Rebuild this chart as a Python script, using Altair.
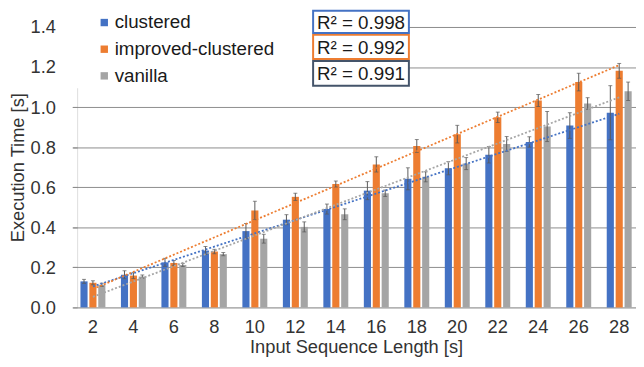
import altair as alt
import pandas as pd

lengths = [2, 4, 6, 8, 10, 12, 14, 16, 18, 20, 22, 24, 26, 28]
series_names = ["clustered", "improved-clustered", "vanilla"]
clustered = [0.130, 0.163, 0.225, 0.284, 0.381, 0.438, 0.491, 0.583, 0.642, 0.695, 0.762, 0.826, 0.908, 0.972]
improved = [0.123, 0.159, 0.222, 0.279, 0.484, 0.552, 0.616, 0.714, 0.806, 0.865, 0.949, 1.033, 1.125, 1.181]
vanilla = [0.113, 0.154, 0.212, 0.266, 0.343, 0.402, 0.465, 0.570, 0.652, 0.718, 0.816, 0.903, 1.018, 1.079]
clustered_err = [0.010, 0.020, 0.020, 0.020, 0.038, 0.025, 0.025, 0.045, 0.055, 0.033, 0.041, 0.026, 0.064, 0.135]
improved_err = [0.010, 0.015, 0.012, 0.011, 0.046, 0.018, 0.015, 0.038, 0.032, 0.044, 0.026, 0.030, 0.044, 0.037]
vanilla_err = [0.008, 0.008, 0.008, 0.008, 0.022, 0.025, 0.027, 0.016, 0.025, 0.030, 0.037, 0.075, 0.029, 0.046]
r2_labels = ["R² = 0.998", "R² = 0.992", "R² = 0.991"]
colors = ["#4472C4", "#ED7D31", "#A5A5A5"]
box_colors = ["#4472C4", "#ED7D31", "#44546A"]

rows = []
for name, vals, errs in zip(series_names, [clustered, improved, vanilla],
                            [clustered_err, improved_err, vanilla_err]):
    for L, v, e in zip(lengths, vals, errs):
        rows.append({"len": L, "series": name, "val": v, "lo": v - e, "hi": v + e})
df = pd.DataFrame(rows)

FONT = "Liberation Sans"
FS = 18.5
TXT = "#333333"
GRID = "#8c8c8c"

xscale = alt.Scale(range=[-4.5, 569.5], paddingInner=0.34, paddingOuter=0.17)
xoscale = alt.Scale(domain=series_names, paddingInner=0.2, paddingOuter=0.1)
cscale = alt.Scale(domain=series_names, range=colors)

x_enc = alt.X("len:O", scale=xscale,
              axis=alt.Axis(title="Input Sequence Length [s]", labelAngle=0, domain=False,
                            ticks=False, labelPadding=10, labelFontSize=FS, labelColor=TXT,
                            titleFontSize=FS, titleFontWeight="normal", titleColor=TXT,
                            titlePadding=2, labelFont=FONT, titleFont=FONT))
y_scale = alt.Scale(domain=[0, 1.4], nice=False)
y_axis = alt.Axis(title="Execution Time [s]", values=[0, 0.2, 0.4, 0.6, 0.8, 1.0, 1.2, 1.4],
                  format=".1f", grid=True, gridColor=GRID, gridWidth=1, domain=False,
                  tickColor=GRID, tickSize=5, labelPadding=17, labelFontSize=FS,
                  labelColor=TXT, titleFontSize=FS, titleFontWeight="normal",
                  titleColor=TXT, titlePadding=3, labelFont=FONT, titleFont=FONT)

base = alt.Chart(df)

cover = alt.Chart(pd.DataFrame({"a": [0]})).mark_rect(fill="white").encode(
    x=alt.value(-8), x2=alt.value(240), y=alt.value(-17), y2=alt.value(62))

bars = base.mark_bar().encode(
    x=x_enc,
    xOffset=alt.XOffset("series:N", scale=xoscale, sort=series_names),
    y=alt.Y("val:Q", scale=y_scale, axis=y_axis),
    color=alt.Color("series:N", scale=cscale, sort=series_names,
                    legend=alt.Legend(title=None, orient="none", legendX=18, legendY=-14,
                                      symbolType="square", symbolSize=56, symbolStrokeWidth=0,
                                      labelFontSize=19, labelFont=FONT, labelColor="#1a1a1a",
                                      labelOffset=1, labelLimit=400, rowPadding=7, padding=0)),
)

err = base.mark_rule(color="#595959", strokeWidth=1).encode(
    x="len:O",
    xOffset=alt.XOffset("series:N", scale=xoscale, sort=series_names),
    y="lo:Q", y2="hi:Q")

cap_lo = base.mark_tick(color="#595959", thickness=1, size=4).encode(
    x="len:O",
    xOffset=alt.XOffset("series:N", scale=xoscale, sort=series_names),
    y="lo:Q")
cap_hi = base.mark_tick(color="#595959", thickness=1, size=4).encode(
    x="len:O",
    xOffset=alt.XOffset("series:N", scale=xoscale, sort=series_names),
    y="hi:Q")

trend = base.transform_regression("len", "val", groupby=["series"]).mark_line(
    strokeDash=[2, 2], strokeWidth=1.8).encode(
    x="len:O",
    y="val:Q",
    stroke=alt.Stroke("series:N", scale=alt.Scale(domain=series_names, range=colors), legend=None),
)

layers = [cover, bars, err, cap_lo, cap_hi, trend]

box_y = [(-16.5, 6), (8, 32.5), (34.5, 59.5)]
for lab, bc, (y0, y1) in zip(r2_labels, box_colors, box_y):
    d = pd.DataFrame({"t": [lab]})
    layers.append(alt.Chart(d).mark_rect(fill="white", stroke=bc, strokeWidth=2).encode(
        x=alt.value(239), x2=alt.value(336), y=alt.value(y0), y2=alt.value(y1)))
    layers.append(alt.Chart(d).mark_text(fontSize=19, font=FONT, color="#1a1a1a",
                                         align="center", baseline="middle").encode(
        x=alt.value(287.5), y=alt.value((y0 + y1) / 2 + 1), text="t:N"))

chart = alt.layer(*layers).properties(
    width=566, height=284,
    padding={"left": 70, "top": 17, "right": 0, "bottom": 49},
    autosize=alt.AutoSizeParams(type="none"),
).configure_view(stroke=None).configure(font=FONT)

chart.save("out.html", embed_options={"renderer": "svg", "actions": False})
